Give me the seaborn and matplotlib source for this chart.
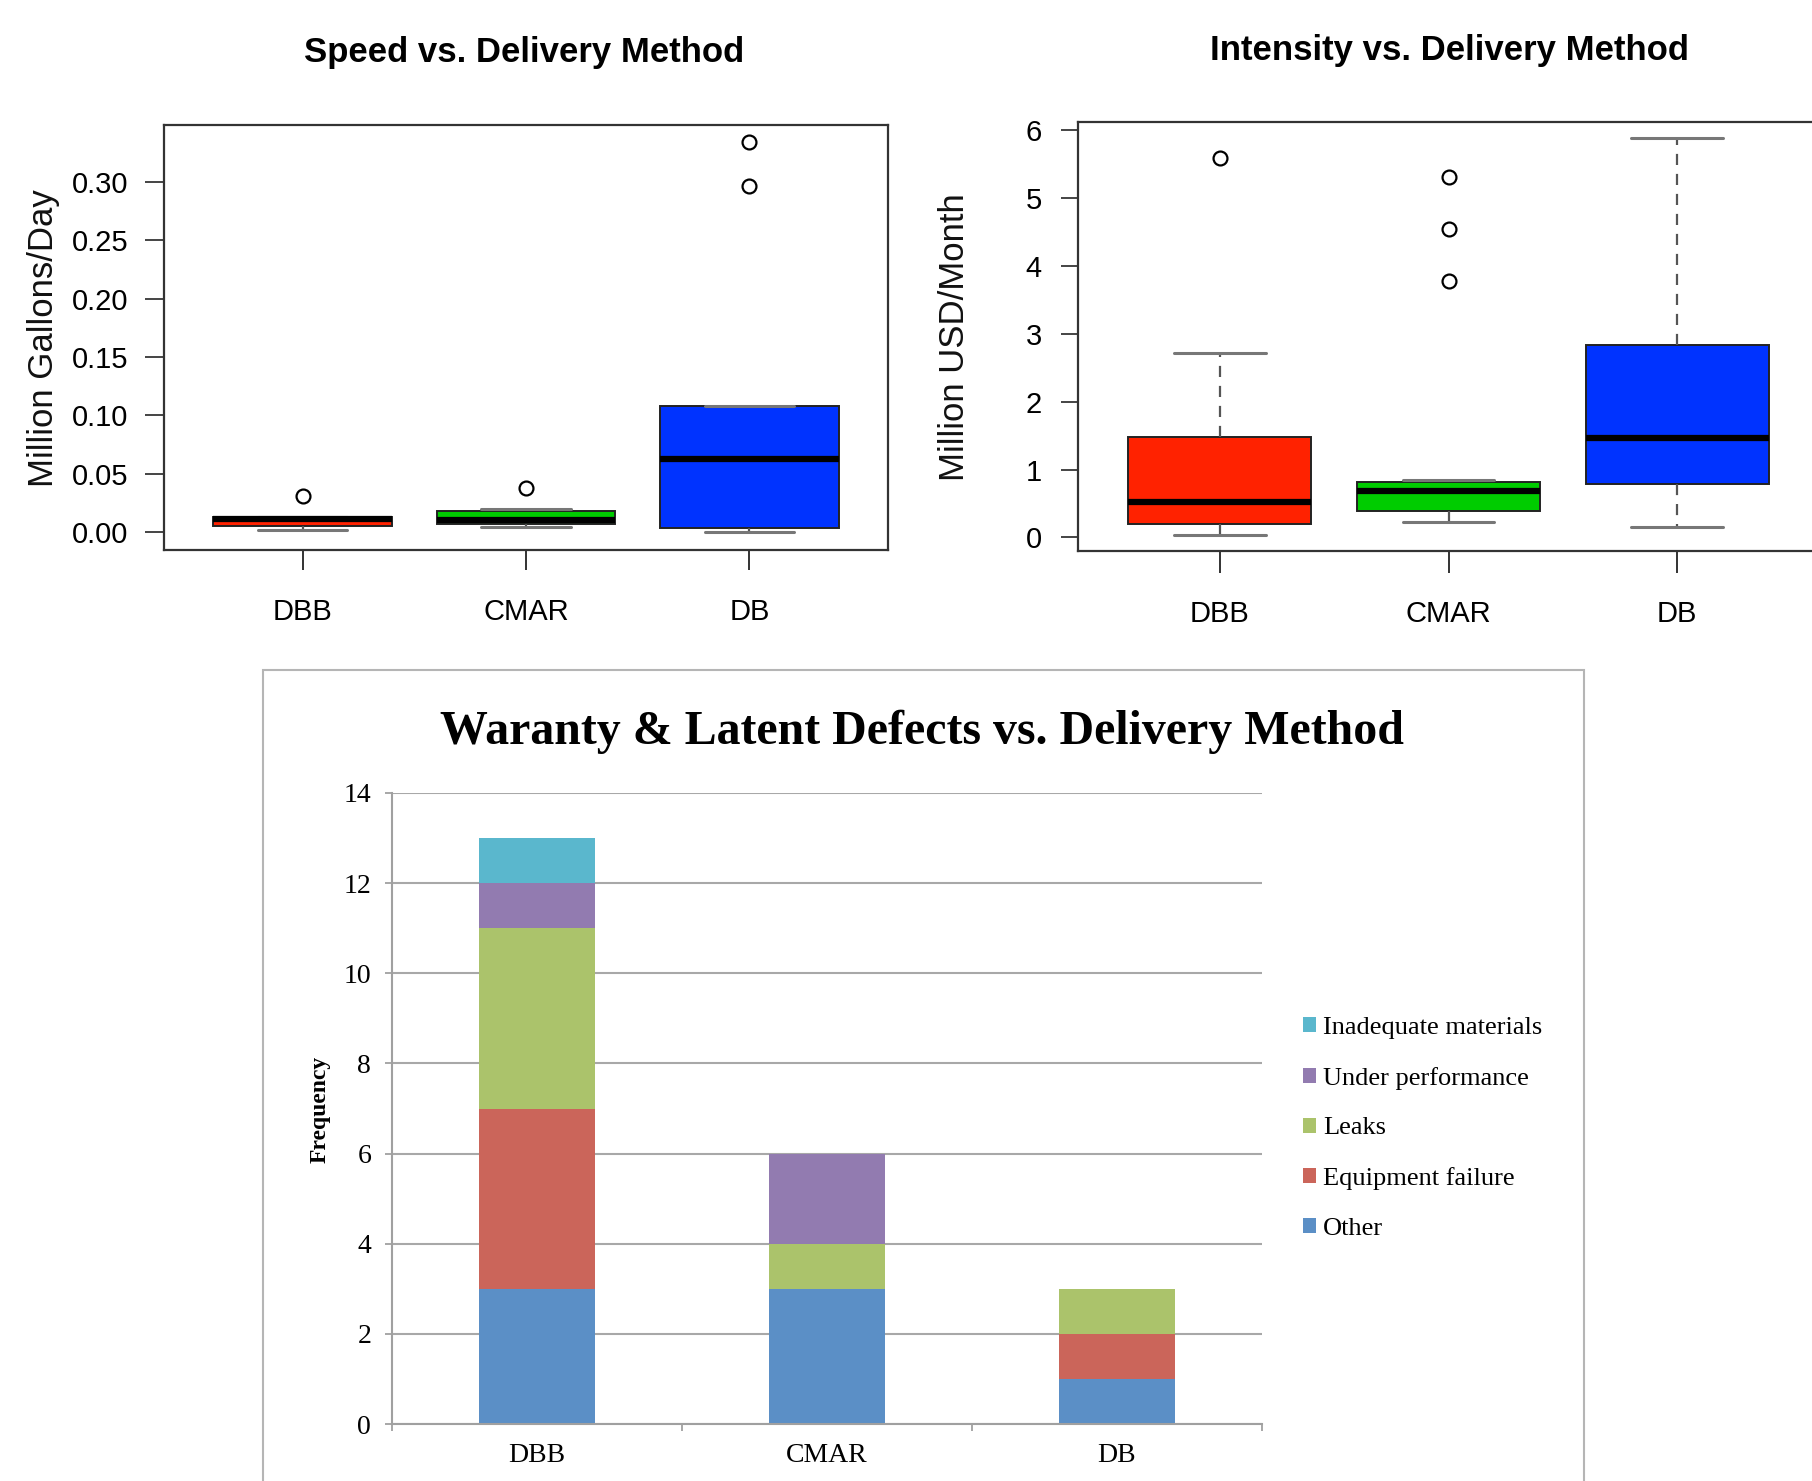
import numpy as np
import pandas as pd
import seaborn as sns
import matplotlib
matplotlib.use("Agg")
import matplotlib.pyplot as plt
from matplotlib.patches import Patch, Rectangle

# ---- data ----
methods = ["DBB", "CMAR", "DB"]
box_colors = ["#FF2200", "#00CC00", "#0033FF"]

# Speed (million gallons/day), values per project
speed_dbb = [0.0017, 0.004, 0.0055, 0.009, 0.0115, 0.012, 0.013, 0.013, 0.031]
speed_cmar = [0.0045, 0.005, 0.0066, 0.008, 0.0103, 0.015, 0.0183, 0.0194, 0.038]
speed_db = [0.0, 0.002, 0.0032, 0.03, 0.0626, 0.09, 0.108, 0.2965, 0.334]

# Intensity (million USD/month)
intensity_dbb = [0.03, 0.1, 0.20, 0.35, 0.52, 1.0, 1.48, 2.71, 5.59]
intensity_cmar = [0.23, 0.28, 0.32, 0.36, 0.39, 0.45, 0.52, 0.6, 0.69,
                  0.72, 0.76, 0.79, 0.81, 0.84, 3.78, 4.54, 5.31]
intensity_db = [0.15, 0.5, 0.78, 1.1, 1.46, 2.2, 2.83, 4.0, 5.88]

speed_ticks = [0.00, 0.05, 0.10, 0.15, 0.20, 0.25, 0.30]
intensity_ticks = [0, 1, 2, 3, 4, 5, 6]

# Warranty & latent defects, frequency per method (stack order bottom -> top)
defect_types = ["Other", "Equipment failure", "Leaks", "Under performance", "Inadequate materials"]
defect_colors = ["#5B8FC6", "#CB655A", "#ABC36B", "#927BB0", "#5AB7CD"]
other = [3, 3, 1]
equipment_failure = [4, 0, 1]
leaks = [4, 1, 1]
under_performance = [1, 2, 0]
inadequate_materials = [1, 0, 0]
freq_ticks = [0, 2, 4, 6, 8, 10, 12, 14]

# ---- fonts / colours ----
sns.set_style("white")
SANS = "Liberation Sans"
SERIF = "Liberation Serif"
plt.rcParams["font.family"] = [SANS, "DejaVu Sans"]
plt.rcParams["text.color"] = "black"
plt.rcParams["xtick.labelcolor"] = "black"
plt.rcParams["ytick.labelcolor"] = "black"

W, H = 1812, 1481
fig = plt.figure(figsize=(W / 100, H / 100), dpi=100)


def px_axes(left, top, right, bottom):
    # pixel box -> figure fraction
    return [left / W, 1 - bottom / H, (right - left) / W, (bottom - top) / H]


def long_df(groups):
    rows = []
    for m, vals in zip(methods, groups):
        rows += [(m, v) for v in vals]
    return pd.DataFrame(rows, columns=["method", "value"])


def r_boxplot(ax, df, ylim, ticks, fmt):
    sns.boxplot(data=df, x="method", y="value", hue="method", order=methods,
                hue_order=methods, palette=box_colors, saturation=1, width=0.8,
                whis=1.5, linecolor="#222222", linewidth=1.4, legend=False, ax=ax,
                medianprops=dict(color="black", linewidth=4.5),
                whiskerprops=dict(color="#555555", linestyle=(0, (5, 4)), linewidth=1.6),
                capprops=dict(color="#777777", linewidth=2.2),
                flierprops=dict(marker="o", markersize=10, markerfacecolor="none",
                                markeredgecolor="black", markeredgewidth=1.6))
    ax.set_xlim(-0.62, 2.62)
    ax.set_ylim(*ylim)
    ax.set_yticks(ticks)
    ax.set_yticklabels([fmt.format(t) for t in ticks], fontsize=21)
    ax.set_xticks(range(3))
    ax.set_xticklabels(methods, fontsize=21)
    ax.set_xlabel("")
    ax.set_ylabel("")
    for s in ax.spines.values():
        s.set_visible(True)
        s.set_color("#333333")
        s.set_linewidth(1.6)


# ---- top left: speed ----
ax1 = fig.add_axes(px_axes(164, 125, 888, 550))
r_boxplot(ax1, long_df([speed_dbb, speed_cmar, speed_db]), (-0.0154, 0.3488), speed_ticks, "{:.2f}")
ax1.tick_params(axis="y", left=True, length=13.5, width=1.4, pad=12, color="#444444")
ax1.tick_params(axis="x", bottom=True, length=14.4, width=1.4, pad=20, color="#333333")
fig.text(524 / W, 1 - 62 / H, "Speed vs. Delivery Method", ha="center", va="baseline",
         fontweight="bold", fontsize=25)
fig.text(44 / W, 1 - 338 / H, "Million Gallons/Day", rotation=90, ha="center", va="center",
         fontsize=25, color="#111111")

# ---- top right: intensity ----
ax2 = fig.add_axes(px_axes(1078, 122, 1819, 551))
r_boxplot(ax2, long_df([intensity_dbb, intensity_cmar, intensity_db]), (-0.2, 6.12), intensity_ticks, "{:d}")
ax2.tick_params(axis="y", left=True, length=12, width=1.4, pad=14, color="#444444")
ax2.tick_params(axis="x", bottom=True, length=15.5, width=1.4, pad=20, color="#333333")
fig.text(1449 / W, 1 - 60 / H, "Intensity vs. Delivery Method", ha="center", va="baseline",
         fontweight="bold", fontsize=25)
fig.text(955 / W, 1 - 337 / H, "Million USD/Month", rotation=90, ha="center", va="center",
         fontsize=25, color="#111111")

# ---- bottom: stacked defects ----
fig.add_artist(Rectangle((263 / W, -0.01), (1584 - 263) / W, 1 - 670 / H + 0.01,
                         transform=fig.transFigure, fill=False, edgecolor="#B5B5B5", linewidth=1.5))
ax3 = fig.add_axes(px_axes(392, 793, 1262, 1424))
layers = [other, equipment_failure, leaks, under_performance, inadequate_materials]
cum = np.cumsum(np.array(layers), axis=0)
for i in reversed(range(len(layers))):
    sns.barplot(x=methods, y=cum[i], color=defect_colors[i], width=0.4, saturation=1,
                errorbar=None, linewidth=0, ax=ax3, zorder=2)
ax3.set_xlim(-0.5, 2.5)
ax3.set_ylim(0, 14)
ax3.set_yticks(freq_ticks)
ax3.set_yticklabels([str(t) for t in freq_ticks], fontfamily=SERIF, fontsize=20)
ax3.set_xticks(range(3))
ax3.set_xticklabels(methods, fontfamily=SERIF, fontsize=20)
ax3.set_xticks([-0.5, 0.5, 1.5, 2.5], minor=True)
ax3.tick_params(axis="x", which="major", length=0, pad=14)
ax3.tick_params(axis="x", which="minor", bottom=True, length=5, width=1.3, color="#A0A0A0")
ax3.tick_params(axis="y", length=5, width=1.3, pad=10, color="#A0A0A0", left=True)
ax3.yaxis.grid(True, color="#A8A8A8", linewidth=1.5)
ax3.set_axisbelow(True)
ax3.set_xlabel("")
ax3.set_ylabel("")
for side in ["top", "right"]:
    ax3.spines[side].set_visible(False)
for side in ["left", "bottom"]:
    ax3.spines[side].set_color("#A0A0A0")
    ax3.spines[side].set_linewidth(1.5)

fig.text(922 / W, 1 - 744 / H, "Waranty & Latent Defects vs. Delivery Method", ha="center",
         va="baseline", fontfamily=SERIF, fontweight="bold", fontsize=34.5)
fig.text(320 / W, 1 - 1109 / H, "Frequency", rotation=90, ha="center", va="center",
         fontfamily=SERIF, fontweight="bold", fontsize=17)

handles = [Patch(facecolor=c, edgecolor="none", label=l)
           for l, c in zip(defect_types[::-1], defect_colors[::-1])]
fig.legend(handles=handles, loc="upper left", bbox_to_anchor=(1303 / W, 1 - 1017 / H),
           frameon=False, prop={"family": SERIF, "size": 19}, handlelength=0.5,
           handleheight=0.5, handletextpad=0.25, labelspacing=1.05,
           borderaxespad=0, borderpad=0)

fig.savefig("out.png", dpi=100)
